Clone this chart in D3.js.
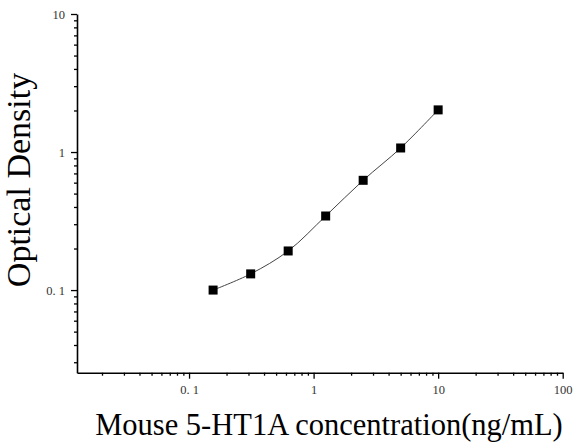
<!DOCTYPE html>
<html>
<head>
<meta charset="utf-8">
<script src="https://cdn.jsdelivr.net/npm/d3@7"></script>
<style>
  body { margin: 0; background: #fff; }
  text { font-family: "Liberation Serif", "Times New Roman", serif; }
</style>
</head>
<body>
<div id="chart"></div>
<script>
// standard curve data
var concentration = [0.156, 0.3125, 0.625, 1.25, 2.5, 5, 10];
var opticalDensity = [0.100, 0.131, 0.192, 0.344, 0.624, 1.07, 2.02];

var xMajorTicks = [0.1, 1, 10, 100];
var xMajorLabels = ["0. 1", "1", "10", "100"];
var yMajorTicks = [0.1, 1, 10];
var yMajorLabels = ["0. 1", "1", "10"];

var width = 575, height = 443;

var svg = d3.select("#chart")
	.append("svg")
	.attr("width", width)
	.attr("height", height)

// log scales
var x = d3.scaleLog()
	.domain([0.0126, 100])
	.range([77, 562.7])

var y = d3.scaleLog()
	.domain([0.0252, 10])
	.range([372.7, 14])

// minor ticks 2..9 for each decade
function minorTicks(lo, hi) {
	var out = [];
	for (var e = -3; e <= 2; e++) {
		for (var m = 2; m <= 9; m++) {
			var v = m * Math.pow(10, e);
			if (v >= lo && v <= hi) out.push(v);
		}
	}
	return out;
}

// x axis minor
svg.append("g")
	.attr("transform", "translate(0," + y.range()[0] + ")")
	.call(d3.axisBottom(x).tickValues(minorTicks(x.domain()[0], x.domain()[1])).tickSize(3).tickFormat(""))
	.call(g => g.select(".domain").remove())
	.selectAll("line").attr("stroke", "#000").attr("stroke-width", 1.3)

// x axis major
svg.append("g")
	.attr("transform", "translate(0," + y.range()[0] + ")")
	.call(d3.axisBottom(x).tickValues(xMajorTicks).tickSize(6).tickSizeOuter(0).tickPadding(6)
		.tickFormat((d, i) => xMajorLabels[i]))
	.call(g => g.select(".domain").attr("stroke-width", 1.6))
	.call(g => g.selectAll("line").attr("stroke-width", 1.3))
	.selectAll("text")
		.attr("font-size", 12.5)
		.attr("fill", "#333")

// y axis minor
svg.append("g")
	.attr("transform", "translate(" + x.range()[0] + ",0)")
	.call(d3.axisLeft(y).tickValues(minorTicks(y.domain()[0], y.domain()[1])).tickSize(3).tickFormat(""))
	.call(g => g.select(".domain").remove())
	.selectAll("line").attr("stroke", "#000").attr("stroke-width", 1.3)

// y axis major
svg.append("g")
	.attr("transform", "translate(" + x.range()[0] + ",0)")
	.call(d3.axisLeft(y).tickValues(yMajorTicks).tickSize(6).tickSizeOuter(0).tickPadding(6)
		.tickFormat((d, i) => yMajorLabels[i]))
	.call(g => g.select(".domain").attr("stroke-width", 1.6))
	.call(g => g.selectAll("line").attr("stroke-width", 1.3))
	.selectAll("text")
		.attr("font-size", 12.5)
		.attr("fill", "#333")

// fitted curve
var points = concentration.map((c, i) => [x(c), y(opticalDensity[i])]);

svg.append("path")
	.attr("d", d3.line().curve(d3.curveCatmullRom)(points))
	.attr("fill", "none")
	.attr("stroke", "#444")
	.attr("stroke-width", 1)

// square markers
svg.selectAll("rect.pt")
	.data(points)
	.enter()
	.append("rect")
	.attr("class", "pt")
	.attr("x", d => d[0] - 4.5)
	.attr("y", d => d[1] - 4.5)
	.attr("width", 9)
	.attr("height", 9)
	.attr("fill", "#000")

// axis titles
svg.append("text")
	.attr("x", 329)
	.attr("y", 435)
	.attr("text-anchor", "middle")
	.attr("font-size", 30.5)
	.text("Mouse 5-HT1A concentration(ng/mL)")

svg.append("text")
	.attr("transform", "translate(30,180) rotate(-90)")
	.attr("text-anchor", "middle")
	.attr("font-size", 34)
	.text("Optical Density")
</script>
</body>
</html>
